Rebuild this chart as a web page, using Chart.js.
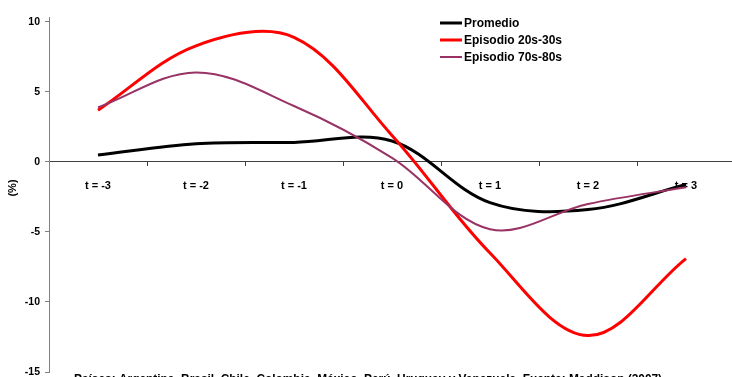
<!DOCTYPE html>
<html>
<head>
<meta charset="utf-8">
<script src="https://cdn.jsdelivr.net/npm/chart.js@4"></script>
<style>
  html, body { margin: 0; padding: 0; overflow: hidden; background: #fff; }
  #wrap { position: absolute; left: 0; top: 0; width: 740px; height: 377px; }
</style>
</head>
<body>
<div id="wrap"><canvas id="c" width="740" height="377"></canvas></div>
<script>
// Periods around each episode and their axis labels
const periods = [-3, -2, -1, 0, 1, 2, 3];
const periodLabels = ['t = -3', 't = -2', 't = -1', 't = 0', 't = 1', 't = 2', 't = 3'];

// Series values (%)
const promedio     = [0.5, 1.3, 1.4, 1.5, -2.9, -3.4, -1.6];
const episodio2030 = [3.7, 8.3, 8.9, 1.9, -6.5, -12.4, -6.9];
const episodio7080 = [3.9, 6.4, 4.0, 0.3, -4.8, -3.0, -1.8];

const seriesNames = ['Promedio', 'Episodio 20s-30s', 'Episodio 70s-80s'];
const yTicks = [-15, -10, -5, 0, 5, 10];
const yTitle = '(%)';
const footnote = 'Países: Argentina, Brasil, Chile, Colombia, México, Perú, Uruguay y Venezuela. Fuente: Maddison (2007)';

const FONT = "'Liberation Sans', Arial, sans-serif";

const toPoints = vals => periods.map((t, i) => ({ x: t, y: vals[i] }));

const datasets = [
  { label: seriesNames[0], data: toPoints(promedio),     borderColor: '#000000', borderWidth: 3, order: 3 },
  { label: seriesNames[1], data: toPoints(episodio2030), borderColor: '#FF0000', borderWidth: 3, order: 2 },
  { label: seriesNames[2], data: toPoints(episodio7080), borderColor: '#993366', borderWidth: 2, order: 1 }
].map(d => Object.assign(d, {
  fill: false, tension: 0.35, pointRadius: 0, pointHoverRadius: 0, cubicInterpolationMode: 'default'
}));

// Legend, y-axis title and source note drawn on the canvas
const extras = {
  id: 'extras',
  afterDraw(chart) {
    const ctx = chart.ctx;
    ctx.save();
    // legend
    const rows = [23, 40, 57];
    ctx.font = 'bold 12px ' + FONT;
    ctx.textBaseline = 'middle';
    ctx.textAlign = 'left';
    chart.data.datasets.forEach((ds, i) => {
      ctx.strokeStyle = ds.borderColor;
      ctx.lineWidth = ds.borderWidth;
      ctx.beginPath();
      ctx.moveTo(440, rows[i]);
      ctx.lineTo(462, rows[i]);
      ctx.stroke();
      ctx.fillStyle = '#000';
      ctx.fillText(ds.label, 464, rows[i] + 0.5);
    });
    // y-axis title
    ctx.save();
    ctx.translate(13, 188);
    ctx.rotate(-Math.PI / 2);
    ctx.font = 'bold 11px ' + FONT;
    ctx.textAlign = 'center';
    ctx.textBaseline = 'middle';
    ctx.fillText(yTitle, 0, 0);
    ctx.restore();
    // source note
    ctx.font = 'bold 11.9px ' + FONT;
    ctx.textBaseline = 'alphabetic';
    ctx.textAlign = 'left';
    ctx.fillText(footnote, 74, 383);
    ctx.restore();
  }
};

// Category slots: each period sits in the middle of a slot one unit wide
const X_MIN = -3.5, X_MAX = 3.5;

new Chart(document.getElementById('c'), {
  type: 'line',
  data: { datasets },
  plugins: [extras],
  options: {
    responsive: false,
    animation: false,
    devicePixelRatio: 1,
    layout: { padding: { left: 0, right: 5, top: 17, bottom: 5 } },
    plugins: { legend: { display: false }, tooltip: { enabled: false } },
    scales: {
      x: { type: 'linear', min: X_MIN, max: X_MAX, display: false },
      xt: {
        type: 'linear', axis: 'x', position: { y: 0 }, min: X_MIN, max: X_MAX,
        afterBuildTicks: s => { s.ticks = periods.slice(1).map(t => ({ value: t - 0.5 })); },
        ticks: { display: false },
        grid: { drawOnChartArea: false, drawTicks: true, tickLength: 4, color: '#404040', lineWidth: 1 },
        border: { display: true, color: '#404040', width: 1 }
      },
      xl: {
        type: 'linear', axis: 'x', position: { y: 0 }, min: X_MIN, max: X_MAX,
        afterBuildTicks: s => { s.ticks = periods.map(t => ({ value: t })); },
        ticks: {
          callback: v => periodLabels[periods.indexOf(Math.round(v))],
          font: { family: FONT, size: 11, weight: 'bold' }, color: '#000',
          padding: 9, maxRotation: 0, autoSkip: false
        },
        grid: { display: false },
        border: { display: false }
      },
      y: {
        type: 'linear', position: 'left', min: -15, max: 10.357,
        afterBuildTicks: s => { s.ticks = yTicks.map(v => ({ value: v })); },
        afterFit: s => { s.width = 49; s.paddingTop = 0; s.paddingBottom = 0; },
        ticks: { font: { family: FONT, size: 10.5, weight: 'bold' }, color: '#000', padding: 5 },
        grid: { drawOnChartArea: false, drawTicks: true, tickLength: 4, color: '#808080' },
        border: { display: true, color: '#808080', width: 1 }
      }
    }
  }
});
</script>
</body>
</html>
